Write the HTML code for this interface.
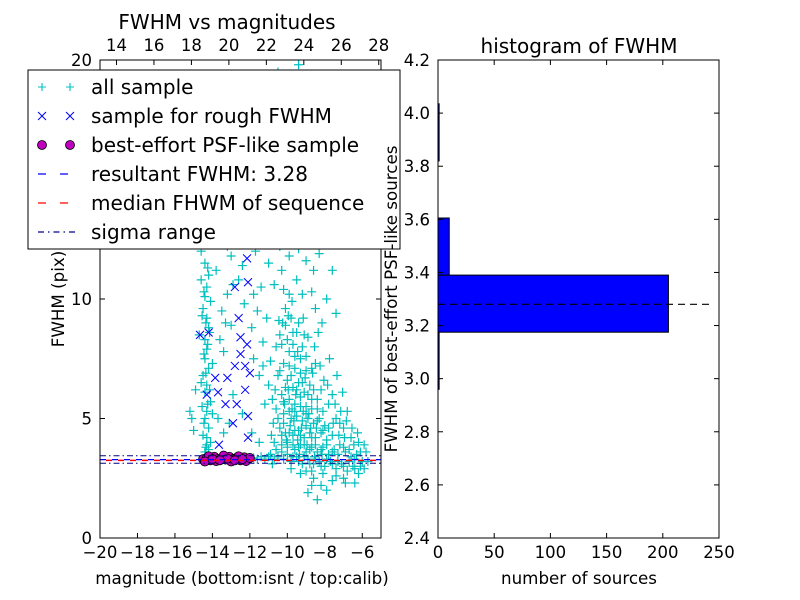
<!DOCTYPE html>
<html><head><meta charset="utf-8"><style>
html,body{margin:0;padding:0;background:#fff}
svg{display:block;font-family:"DejaVu Sans","Liberation Sans",sans-serif}
</style></head><body>
<svg id="chart" width="800" height="600" viewBox="0 0 800 600"></svg>
<script>
// ---- data ----
const allPts = [[-14.4,3.6],[-14.3,3.9],[-14.5,4.3],[-14.2,4.6],[-14.4,5.0],[-14.3,5.3],[-14.1,5.7],[-14.4,6.1],[-14.3,6.4],[-14.5,6.8],[-14.2,7.1],[-14.4,7.5],[-14.3,7.9],[-14.4,8.3],[-14.2,8.8],[-14.3,9.2],[-14.5,9.6],[-14.4,10.1],[-14.3,10.5],[-14.2,11.0],[-14.4,11.5],[-14.6,12.0],[-14.3,12.4],[-14.1,12.9],[-14.4,13.3],[-14.5,13.9],[-14.2,14.4],[-14.4,15.2],[-14.7,8.5],[-14.0,5.2],[-14.1,4.0],[-14.6,6.5],[-14.0,7.3],[-14.1,9.9],[-14.6,10.8],[-14.2,3.7],[-14.3,4.2],[-15.2,5.3],[-15.1,5.0],[-14.9,6.2],[-15.0,4.5],
[-14.35,3.8],[-14.45,4.8],[-14.25,5.6],[-14.35,6.9],[-14.45,7.7],[-14.25,8.1],[-14.35,9.0],[-14.45,10.3],[-14.25,11.3],[-14.35,12.7],[-14.45,14.0],[-14.15,6.2],[-14.15,8.6],[-14.55,5.5],[-14.55,9.3],
[-13.5,9.5],[-13.2,10.2],[-13.0,11.8],[-12.8,12.5],[-13.6,12.9],[-13.1,13.6],[-12.7,14.3],[-13.4,7.8],[-13.0,8.9],[-12.6,10.8],[-12.3,9.8],[-11.9,8.8],[-11.6,9.5],[-11.4,10.5],[-11.7,12.0],[-11.3,13.2],[-11.0,11.5],[-11.8,7.5],[-11.5,6.8],[-13.7,5.0],[-13.4,4.4],[-12.9,6.0],[-12.4,5.2],[-11.9,4.4],[-11.5,4.0],[-13.1,4.8],[-12.2,13.8],[-11.1,14.6],[-12.5,15.5],[-13.3,16.5],[-12.0,17.2],[-14.0,17.5],[-13.6,19.2],[-14.2,18.4],[-10.8,15.8],[-11.2,16.9],
[-13.3,9.0],[-12.9,10.6],[-12.4,11.4],[-11.8,10.2],[-11.3,8.2],[-11.1,9.2],[-10.9,12.7],[-11.5,14.0],[-12.7,13.2],[-13.5,14.8],[-13.8,11.2],[-13.2,12.2],[-11.2,5.6],[-11.0,6.4],[-11.3,7.2],[-13.6,8.3],[-12.0,15.8],[-11.6,18.0],[-12.8,17.8],[-13.9,16.2],
[-10.5,19.5],[-9.4,19.8],[-9.0,18.8],[-8.6,17.6],[-9.8,17.0],[-10.2,16.2],[-9.2,15.5],[-8.4,14.8],[-8.0,12.6],[-7.6,11.2],[-7.8,13.0],[-10.0,14.0],[-9.6,13.4],[-8.8,12.8],[-10.4,12.2],[-9.0,11.6],[-8.3,11.9],[-9.5,10.8],[-8.7,10.3],[-7.9,10.0],[-7.4,9.4],[-10.7,10.6],[-10.3,11.2],
[-9.3,14.3],[-9.7,15.6],[-10.1,13.0],[-9.4,12.1],[-8.9,13.9],[-9.9,11.8],[-9.2,10.2],[-8.5,9.6],[-10.2,10.4],[-9.8,12.6],[-8.6,11.2],[-9.1,17.0],[-9.6,18.3],[-8.8,16.0],
[-10.4,8.5],[-10.1,8.9],[-9.8,9.2],[-9.5,8.6],[-9.2,8.0],[-9.9,7.8],[-10.2,7.3],[-9.6,7.1],[-9.3,7.5],[-9.0,7.0],[-10.5,6.8],[-10.0,6.6],[-9.7,6.3],[-9.4,6.5],[-9.1,6.1],[-8.8,6.4],[-10.3,6.0],[-9.9,5.8],[-9.6,5.6],[-9.3,5.9],[-9.0,5.5],[-8.7,5.8],[-8.4,5.4],[-10.6,5.4],[-10.2,5.2],[-9.8,5.0],[-9.5,5.1],[-9.2,4.9],[-8.9,5.0],[-8.6,4.8],[-8.3,5.0],[-8.0,4.7],[-10.4,4.6],[-10.1,4.4],[-9.7,4.3],[-9.4,4.5],[-9.1,4.2],[-8.8,4.4],[-8.5,4.2],[-8.2,4.4],[-7.9,4.1],[-7.6,4.3],[-10.7,4.0],[-10.3,3.9],[-10.0,3.8],[-9.6,3.7],[-9.3,3.9],[-9.0,3.6],[-8.7,3.8],[-8.4,3.6],[-8.1,3.8],[-7.8,3.5],[-7.5,3.7],[-7.2,3.9],[-6.9,3.6],[-6.6,3.4],[-6.3,3.5],[-6.0,3.2],[-5.8,3.6],[-10.9,3.5],[-10.5,3.4],[-10.2,3.3],[-9.8,3.2],[-9.5,3.4],[-9.2,3.1],[-8.9,3.3],[-8.6,3.1],[-8.3,3.2],[-8.0,3.0],[-7.7,3.2],[-7.4,2.9],[-7.1,3.1],[-6.8,2.8],[-6.5,3.0],[-6.2,2.7],[-5.9,2.9],[-11.2,3.3],[-11.6,3.3],[-10.8,3.1],[-9.0,2.8],[-8.6,2.5],[-8.2,2.2],[-8.9,1.9],[-8.4,1.6],[-7.6,2.4],[-7.0,2.5],[-6.4,2.3],[-10.8,5.8],[-10.9,7.4],[-10.6,8.0],[-8.9,8.4],[-8.5,7.3],[-8.2,6.2],[-7.8,5.6],[-7.4,5.0],[-7.0,4.6],[-6.6,4.2],[-6.2,4.0],[-5.9,3.9],[-7.2,4.8],[-6.8,5.3],[-7.6,6.0],[-9.7,8.1],[-10.1,9.6],[-9.9,10.2],
[-9.85,4.7],[-9.45,4.1],[-9.15,5.3],[-8.75,4.6],[-9.55,6.0],[-9.05,6.7],[-9.75,5.4],[-8.95,3.9],[-8.55,3.4],[-9.35,3.5],[-10.05,4.1],[-9.65,4.9],[-8.45,4.6],[-8.15,3.5],[-9.25,4.6],[-8.85,5.2],[-10.15,5.6],[-9.95,6.2],[-9.45,7.8],[-8.65,6.9],
[-10.3,8.1],[-10.0,8.3],[-9.7,8.6],[-9.4,9.0],[-9.1,8.5],[-9.9,7.2],[-9.6,7.6],[-9.3,6.9],[-9.0,7.6],[-8.7,7.1],[-10.4,7.0],[-10.1,6.3],[-9.8,6.8],[-9.5,6.2],[-9.2,6.5],[-8.9,6.0],[-8.6,6.2],[-10.2,5.7],[-9.9,5.3],[-9.6,5.3],[-9.3,5.5],[-9.0,5.2],[-8.7,5.4],[-8.4,5.8],[-8.1,5.3],[-10.5,5.0],[-10.2,4.8],[-9.9,4.4],[-9.6,4.5],[-9.3,4.3],[-9.0,4.7],[-8.7,4.2],[-8.4,4.9],[-8.1,4.5],[-7.8,4.6],[-10.3,4.3],[-10.0,4.0],[-9.7,3.9],[-9.4,3.8],[-9.1,3.9],[-8.8,3.7],[-8.5,3.9],[-8.2,3.7],[-7.9,3.9],[-7.6,3.6],[-7.3,3.5],[-7.0,3.8],[-6.7,3.7],[-6.4,3.3],[-6.1,3.6],[-10.6,3.7],[-10.3,3.6],[-10.0,3.5],[-9.7,3.4],[-9.4,3.2],[-9.1,3.4],[-8.8,3.1],[-8.5,3.3],[-8.2,3.0],[-7.9,3.3],[-7.6,3.1],[-7.3,3.2],[-7.0,3.0],[-6.7,3.2],[-6.4,2.9],[-6.1,3.0],[-5.7,3.2],[-11.0,3.4],[-10.7,3.3],[-11.4,3.4],[-11.8,3.35],[-9.8,2.9],[-9.3,2.7],[-8.7,2.8],[-8.1,2.7],[-7.4,2.6],[-6.9,2.3],[-7.9,2.0],[-8.7,2.2],
[-9.95,9.3],[-9.75,9.9],[-10.25,9.0],[-9.15,9.2],[-8.55,8.0],[-8.25,7.2],[-8.05,6.6],[-7.85,6.4],[-7.45,5.6],[-7.15,5.3],[-6.85,4.9],[-6.55,4.6],[-6.25,4.4],[-7.55,4.8],[-7.25,4.3],[-6.95,4.2],[-6.45,3.9],[-10.65,6.2],[-10.75,4.8],[-10.85,4.3],[-10.45,9.1],[-8.35,8.6],[-8.15,9.0],[-7.75,7.5],[-7.35,6.8],[-7.05,6.1]];
const roughPts = [[-12.15,11.7],[-12.1,10.7],[-12.8,10.5],[-14.66,8.5],[-14.2,8.6],[-12.6,9.2],[-12.5,8.4],[-12.15,8.1],[-12.5,7.7],[-12.8,7.2],[-12.25,7.2],[-13.2,6.7],[-13.85,6.7],[-12.0,6.9],[-14.3,6.0],[-13.7,6.1],[-13.3,5.6],[-12.7,5.6],[-12.25,6.2],[-12.1,5.1],[-12.9,4.8],[-12.1,4.2],[-13.65,3.9],[-12.2,13.0],[-12.0,12.6],[-13.0,14.1],[-12.3,14.6]];
const psfPts = [[-14.5,3.3],[-14.3,3.35],[-14.1,3.25],[-13.9,3.4],[-13.7,3.3],[-13.5,3.35],[-13.3,3.28],[-13.1,3.4],[-12.9,3.3],[-12.7,3.36],[-12.5,3.25],[-12.3,3.38],[-12.1,3.3],[-13.8,3.22],[-13.4,3.45],[-13.0,3.2],[-12.6,3.42],[-12.2,3.22],[-14.2,3.42],[-12.0,3.35],[-14.4,3.2],[-13.2,3.32],[-14.0,3.3],[-13.6,3.25],[-12.8,3.25],[-12.4,3.3]];
const resultFwhm = 3.28;
const medianFwhm = 3.25;
const sigmaRange = [3.13, 3.44];
const histEdges = [2.96, 3.175, 3.39, 3.605, 3.82, 4.035];
const histCounts = [1, 205, 10, 0, 1];
const leftXTicks = [-20,-18,-16,-14,-12,-10,-8,-6];
const leftYTicks = [0,5,10,15,20];
const topTicks = [14,16,18,20,22,24,26,28];
const calibOffset = 33.12;
const rightXTicks = [0,50,100,150,200,250];
const rightYTicks = [2.4,2.6,2.8,3.0,3.2,3.4,3.6,3.8,4.0,4.2];

// ---- axes ----
const L = {x0:100,x1:381,y0:60,y1:538};
const R = {x0:438,x1:719,y0:60,y1:538};
const lx = m => L.x0 + (m+20)/15*(L.x1-L.x0);
const ly = f => L.y1 - f/20*(L.y1-L.y0);
const rx = c => R.x0 + c/250*(R.x1-R.x0);
const ry = f => R.y1 - (f-2.4)/1.8*(R.y1-R.y0);

const svg = document.getElementById('chart');
const NS = 'http://www.w3.org/2000/svg';
function mk(tag, attrs, parent){const e=document.createElementNS(NS,tag);for(const k in attrs)e.setAttribute(k,attrs[k]);(parent||svg).appendChild(e);return e;}
function txt(s, attrs, parent){const e=mk('text',attrs,parent);e.textContent=s;return e;}
const fmt = v => (v<0?'\u2212':'')+Math.abs(v);

const defs = mk('defs',{});
const cp = mk('clipPath',{id:'lclip'},defs);
mk('rect',{x:L.x0,y:L.y0,width:L.x1-L.x0,height:L.y1-L.y0},cp);
const lg = mk('g',{'clip-path':'url(#lclip)'});



allPts.forEach(p=>{
  const x=lx(p[0]), y=ly(p[1]);
  const e=mk('path',{d:`M${x-4.5},${y}H${x+4.5}M${x},${y-4.5}V${y+4.5}`,stroke:'#00bfbf','stroke-width':1.2,fill:'none'},lg);
  
  
});
roughPts.forEach(p=>{
  const x=lx(p[0]), y=ly(p[1]);
  const e=mk('path',{d:`M${x-4},${y-4}L${x+4},${y+4}M${x-4},${y+4}L${x+4},${y-4}`,stroke:'#0000ff','stroke-width':1,fill:'none'},lg);
  
  
});
psfPts.forEach(p=>{
  const e=mk('circle',{cx:lx(p[0]),cy:ly(p[1]),r:4.5,fill:'#bf00bf',stroke:'#000','stroke-width':0.8},lg);
  
  
});
let e;
e=mk('line',{x1:L.x0,x2:L.x1,y1:ly(sigmaRange[0]),y2:ly(sigmaRange[0]),stroke:'#00008b','stroke-width':1,'stroke-dasharray':'6,3,1.5,3'},lg);

e=mk('line',{x1:L.x0,x2:L.x1,y1:ly(sigmaRange[1]),y2:ly(sigmaRange[1]),stroke:'#00008b','stroke-width':1,'stroke-dasharray':'6,3,1.5,3'},lg);

e=mk('line',{x1:L.x0,x2:L.x1,y1:ly(resultFwhm),y2:ly(resultFwhm),stroke:'#0000ff','stroke-width':1.2,'stroke-dasharray':'6,6'},lg);

e=mk('line',{x1:L.x0,x2:L.x1,y1:ly(medianFwhm),y2:ly(medianFwhm),stroke:'#ff0000','stroke-width':1.5,'stroke-dasharray':'6,6','stroke-dashoffset':6},lg);


e=mk('rect',{x:L.x0,y:L.y0,width:L.x1-L.x0,height:L.y1-L.y0,fill:'none',stroke:'#000','stroke-width':1});

leftXTicks.forEach(v=>{const x=lx(v);
  mk('line',{x1:x,x2:x,y1:L.y1,y2:L.y1-5,stroke:'#000'});
  e=txt(fmt(v),{x:x,y:L.y1+20,'text-anchor':'middle','font-size':16.5});
  });
leftYTicks.forEach(v=>{const y=ly(v);
  mk('line',{x1:L.x0,x2:L.x0+5,y1:y,y2:y,stroke:'#000'});
  mk('line',{x1:L.x1,x2:L.x1-5,y1:y,y2:y,stroke:'#000'});
  e=txt(String(v),{x:L.x0-8,y:y+6,'text-anchor':'end','font-size':16.5});
  });
topTicks.forEach(v=>{const x=lx(v-calibOffset);
  mk('line',{x1:x,x2:x,y1:L.y0,y2:L.y0+5,stroke:'#000'});
  e=txt(String(v),{x:x,y:L.y0-9,'text-anchor':'middle','font-size':16.5});
  });
e=txt('FWHM vs magnitudes',{x:227,y:29,'text-anchor':'middle','font-size':20});

e=txt('magnitude (bottom:isnt / top:calib)',{x:242,y:584,'text-anchor':'middle','font-size':16.7});

e=txt('FWHM (pix)',{x:0,y:0,'text-anchor':'middle','font-size':16.7,transform:'translate(64,299) rotate(-90)'});


const leg = mk('g',{});

mk('rect',{x:28,y:70,width:372,height:179,fill:'#fff',stroke:'#000','stroke-width':1},leg);
const legY=[87,116,145,174,203,232];
const legLabels=['all sample','sample for rough FWHM','best-effort PSF-like sample','resultant FWHM: 3.28','median FHWM of sequence','sigma range'];
legLabels.forEach((s,i)=>{const y=legY[i];
  const g=mk('g',{},leg);
  
  [42,70].forEach(x=>{
    if(i===0) mk('path',{d:`M${x-4},${y}H${x+4}M${x},${y-4}V${y+4}`,stroke:'#00bfbf','stroke-width':1.1},g);
    if(i===1) mk('path',{d:`M${x-4},${y-4}L${x+4},${y+4}M${x-4},${y+4}L${x+4},${y-4}`,stroke:'#0000ff'},g);
    if(i===2) mk('circle',{cx:x,cy:y,r:4.5,fill:'#bf00bf',stroke:'#000','stroke-width':0.8},g);
  });
  if(i===3) mk('line',{x1:38,x2:76,y1:y,y2:y,stroke:'#0000ff','stroke-width':1.2,'stroke-dasharray':'8,14'},g);
  if(i===4) mk('line',{x1:38,x2:76,y1:y,y2:y,stroke:'#ff0000','stroke-width':1.2,'stroke-dasharray':'8,14'},g);
  if(i===5) mk('line',{x1:38,x2:76,y1:y,y2:y,stroke:'#00008b','stroke-width':1.2,'stroke-dasharray':'6,4,1.5,4'},g);
  txt(s,{x:91,y:y+7,'font-size':20},g);
});

histCounts.forEach((c,i)=>{
  if(c<=0) return;
  const y0=ry(histEdges[i+1]), y1=ry(histEdges[i]);
  const b=mk('rect',{x:rx(0),y:y0,width:Math.max(rx(c)-rx(0),0.8),height:y1-y0,fill:'#0000ff',stroke:'#000','stroke-width':1});
  
});
e=mk('line',{x1:rx(0),x2:rx(245),y1:ry(resultFwhm),y2:ry(resultFwhm),stroke:'#000','stroke-width':1.2,'stroke-dasharray':'7,5'});

e=mk('rect',{x:R.x0,y:R.y0,width:R.x1-R.x0,height:R.y1-R.y0,fill:'none',stroke:'#000'});

rightXTicks.forEach(v=>{const x=rx(v);
  mk('line',{x1:x,x2:x,y1:R.y1,y2:R.y1-5,stroke:'#000'});
  mk('line',{x1:x,x2:x,y1:R.y0,y2:R.y0+5,stroke:'#000'});
  e=txt(String(v),{x:x,y:R.y1+20,'text-anchor':'middle','font-size':16.5});
  });
rightYTicks.forEach(v=>{const y=ry(v);
  mk('line',{x1:R.x0,x2:R.x0+5,y1:y,y2:y,stroke:'#000'});
  mk('line',{x1:R.x1,x2:R.x1-5,y1:y,y2:y,stroke:'#000'});
  e=txt(v.toFixed(1),{x:R.x0-8,y:y+6,'text-anchor':'end','font-size':16.5});
  });
e=txt('histogram of FWHM',{x:579,y:53,'text-anchor':'middle','font-size':20});

e=txt('number of sources',{x:579,y:584,'text-anchor':'middle','font-size':16.7});

e=txt('FWHM of best-effort PSF-like sources',{x:0,y:0,'text-anchor':'middle','font-size':16.7,transform:'translate(397,299) rotate(-90)'});

</script>
</body></html>
